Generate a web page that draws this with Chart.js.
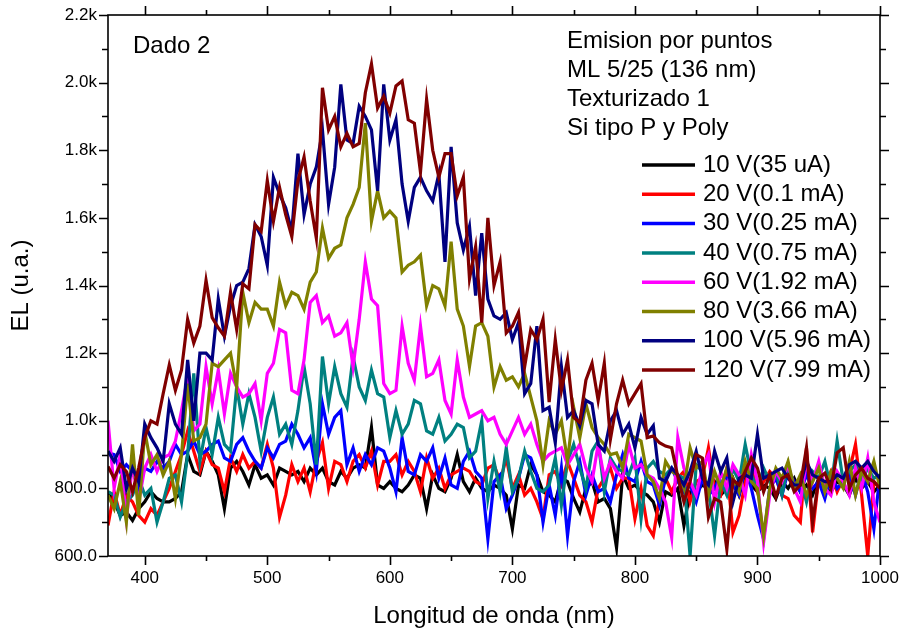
<!DOCTYPE html>
<html>
<head>
<meta charset="utf-8">
<script src="https://cdn.jsdelivr.net/npm/chart.js@4.4.1/dist/chart.umd.min.js"></script>
<style>
  html, body { margin: 0; padding: 0; background: #ffffff; }
  #wrap { width: 906px; height: 638px; }
</style>
</head>
<body>
<div id="wrap"><canvas id="c" width="906" height="638"></canvas></div>
<script>
// Wavelength grid (nm)
const wavelength = [
  370,375,380,385,390,395,
  400,405,410,415,420,425,430,435,440,445,
  450,455,460,465,470,475,480,485,490,495,
  500,505,510,515,520,525,530,535,540,545,
  550,555,560,565,570,575,580,585,590,595,
  600,605,610,615,620,625,630,635,640,645,
  650,655,660,665,670,675,680,685,690,695,
  700,705,710,715,720,725,730,735,740,745,
  750,755,760,765,770,775,780,785,790,795,
  800,805,810,815,820,825,830,835,840,845,
  850,855,860,865,870,875,880,885,890,895,
  900,905,910,915,920,925,930,935,940,945,
  950,955,960,965,970,975,980,985,990,995,
  1000
];

// Electroluminescence intensity (u.a.) for each bias
const el10V = [
  790,760,720,730,705,740,
  760,790,770,760,760,770,790,900,850,840,
  910,880,840,740,860,880,850,810,870,830,
  840,810,860,850,840,850,820,860,840,860,
  820,810,850,830,860,870,860,980,810,800,
  820,800,790,810,840,830,740,840,800,790,
  830,900,820,790,830,800,790,810,800,780,
  680,810,800,870,840,790,780,760,830,820,
  770,730,800,820,760,770,740,625,840,800,
  810,790,780,760,700,790,780,800,690,790,
  790,810,800,820,780,800,830,780,840,810,
  790,810,800,770,820,800,830,790,810,780,
  830,800,790,820,810,780,830,800,820,790,
  810
];
const el20V = [
  690,790,720,780,760,720,
  700,740,720,760,800,850,900,970,910,850,
  910,870,860,790,890,850,900,860,880,860,
  930,860,715,780,870,820,860,790,880,935,
  800,880,870,820,880,900,860,910,810,880,
  880,900,840,880,850,790,890,830,860,800,
  840,850,860,850,820,810,860,870,820,890,
  800,840,780,800,760,710,840,850,810,880,
  830,780,760,700,800,830,860,800,830,830,
  710,800,690,660,770,830,790,830,850,760,
  820,830,920,800,780,860,670,720,820,860,
  790,820,850,830,780,770,720,700,920,670,
  830,810,850,790,830,850,930,780,600,820,
  800
];
const el30V = [
  905,900,850,870,850,800,
  860,850,880,860,880,930,900,910,940,900,
  910,930,940,890,880,930,950,910,880,860,
  920,890,930,940,990,960,920,950,850,1050,
  960,1010,1030,870,920,850,900,870,920,910,
  860,790,950,850,840,900,880,920,830,890,
  810,800,880,910,850,830,650,820,840,740,
  780,830,900,890,840,700,810,720,860,660,
  820,880,780,840,790,800,760,840,900,830,
  820,880,820,810,750,830,860,820,790,810,
  760,830,780,800,840,830,810,780,860,800,
  720,650,800,830,780,850,820,790,840,800,
  820,770,840,800,820,840,780,850,790,680,
  840
];
const el40V = [
  790,780,715,760,780,830,
  780,800,700,760,830,840,760,900,1140,880,
  980,900,1010,930,910,1100,990,1080,1010,910,
  1010,1070,960,990,930,1030,1160,1050,870,1190,
  1050,1160,1080,1040,1190,1100,1060,1150,1080,1070,
  950,1030,960,990,1060,1050,970,960,1010,940,
  960,990,980,890,910,1000,770,880,790,920,
  790,830,910,850,800,790,810,890,750,880,
  930,860,800,910,940,790,890,860,850,840,
  890,710,860,880,850,840,860,840,830,600,
  870,850,800,660,820,780,860,820,930,840,
  800,860,820,850,780,870,800,830,760,850,
  830,880,800,940,820,850,870,820,860,830,
  840
];
const el60V = [
  1000,800,900,710,870,760,
  860,900,850,890,900,940,1030,1130,970,990,
  1160,1050,1150,1020,1140,1100,1070,1080,1110,1000,
  1140,1170,1270,1260,1090,1080,1180,1350,1370,1290,
  1310,1250,1260,1290,1160,1300,1470,1360,1340,1110,
  1080,1090,1280,1170,1120,1280,1130,1140,1180,1060,
  1020,1180,1070,1010,1020,1030,1000,1010,960,930,
  970,1010,960,990,930,880,900,910,920,870,
  900,930,860,820,930,830,880,850,830,930,
  860,870,840,830,800,760,655,950,860,820,
  780,860,900,760,850,800,870,840,780,900,
  820,640,780,850,820,870,800,760,880,820,
  880,800,780,850,820,780,860,800,890,760,
  700
];
const el80V = [
  780,740,820,700,930,720,
  970,870,900,840,880,770,900,1110,940,950,
  990,1170,1160,1180,1200,1100,1380,1290,1350,1330,
  1330,1280,1410,1340,1380,1370,1330,1410,1440,1570,
  1480,1510,1520,1600,1640,1690,1880,1590,1680,1600,
  1620,1600,1440,1460,1470,1490,1340,1400,1390,1340,
  1530,1330,1280,1160,1280,1290,1250,1100,1160,1120,
  1130,1100,1140,1070,1000,870,1000,960,1000,880,
  1040,950,1050,980,950,930,900,905,860,960,
  950,940,840,820,770,880,850,840,800,920,
  860,880,780,850,800,860,830,790,880,820,
  800,660,800,860,830,880,800,840,780,820,
  860,790,850,830,800,880,780,850,820,880,
  800
];
const el100V = [
  910,880,920,800,860,820,
  990,950,920,880,1050,990,960,1180,1000,1200,
  1200,1180,1360,1250,1340,1400,1410,1450,1580,1545,
  1460,1720,1670,1630,1560,1790,1610,1700,1750,1860,
  1640,1750,1995,1830,1820,1930,1900,1860,1680,1995,
  1830,1890,1700,1590,1690,1720,1680,1650,1730,1470,
  1810,1585,1505,1575,1370,1555,1360,1310,1300,1320,
  1240,1290,1080,1110,1280,1030,1040,935,1160,1010,
  1030,985,1060,1050,930,910,1000,1030,960,990,
  920,1010,960,985,830,820,860,840,810,850,
  910,830,810,910,850,890,760,830,840,830,
  960,830,840,850,860,830,810,810,880,840,
  830,820,820,840,830,870,880,860,880,850,
  830
];
const el120V = [
  865,830,870,850,790,860,
  950,1000,990,1080,1165,1090,1150,1300,1230,1280,
  1415,1305,1275,1250,1380,1270,1405,1390,1580,1560,
  1710,1590,1690,1610,1545,1710,1780,1650,1540,1985,
  1860,1900,1810,1850,1810,1820,1970,2055,1925,1960,
  1910,1990,2005,1890,1880,1735,1950,1800,1720,1790,
  1790,1665,1720,1420,1515,1290,1600,1400,1470,1260,
  1280,1320,1160,1270,1240,1300,1055,1240,1090,1180,
  1010,995,1120,1170,1060,1170,945,1050,1120,1050,
  1080,1110,950,955,935,925,920,835,760,820,
  900,890,715,770,760,620,825,810,850,890,
  860,790,840,775,830,840,790,810,920,700,
  830,845,800,905,920,800,840,860,830,820,
  800
];

const seriesValues = [el10V, el20V, el30V, el40V, el60V, el80V, el100V, el120V];
const seriesNames = ['10 V(35 uA)', '20 V(0.1 mA)', '30 V(0.25 mA)', '40 V(0.75 mA)',
                     '60 V(1.92 mA)', '80 V(3.66 mA)', '100 V(5.96 mA)', '120 V(7.99 mA)'];
const seriesColors = ['#000000', '#ff0000', '#0000ff', '#008080',
                      '#ff00ff', '#808000', '#000080', '#800000'];

const xMajorTicks = [400, 500, 600, 700, 800, 900, 1000];
const xMinorTicks = [450, 550, 650, 750, 850, 950];
const yMajorTicks = [600, 800, 1000, 1200, 1400, 1600, 1800, 2000, 2200];
const yMinorTicks = [700, 900, 1100, 1300, 1500, 1700, 1900, 2100];

const sampleNotes = ['Emision por puntos', 'ML 5/25 (136 nm)', 'Texturizado 1', 'Si tipo P y Poly'];
const panelTag = 'Dado 2';

const FONT = '"Liberation Sans", Arial, Helvetica, sans-serif';

function formatIntensity(v) {
  return v < 1000 ? v.toFixed(1) : (v / 1000).toFixed(1) + 'k';
}

// Box frame with outward ticks on all four sides, plus notes and legend
const frameDecor = {
  id: 'frameDecor',
  afterDraw(chart) {
    const { ctx, chartArea: a, scales: { x, y } } = chart;
    ctx.save();
    ctx.strokeStyle = '#000';
    ctx.lineWidth = 1.6;
    ctx.lineCap = 'butt';
    ctx.strokeRect(a.left, a.top, a.right - a.left, a.bottom - a.top);

    ctx.beginPath();
    const xTick = (v, len) => {
      const px = Math.round(x.getPixelForValue(v)) + 0.5;
      ctx.moveTo(px, a.bottom); ctx.lineTo(px, a.bottom + len);
      ctx.moveTo(px, a.top); ctx.lineTo(px, a.top - len);
    };
    const yTick = (v, len) => {
      const py = Math.round(y.getPixelForValue(v)) + 0.5;
      ctx.moveTo(a.left, py); ctx.lineTo(a.left - len, py);
      ctx.moveTo(a.right, py); ctx.lineTo(a.right + len, py);
    };
    xMajorTicks.forEach(v => xTick(v, 9));
    xMinorTicks.forEach(v => xTick(v, 5));
    yMajorTicks.forEach(v => yTick(v, 9));
    yMinorTicks.forEach(v => yTick(v, 6));
    ctx.stroke();

    // Panel tag and sample description
    ctx.fillStyle = '#000';
    ctx.textBaseline = 'middle';
    ctx.textAlign = 'left';
    ctx.font = '24px ' + FONT;
    ctx.fillText(panelTag, 133, 46);
    sampleNotes.forEach((t, i) => ctx.fillText(t, 567, 41 + i * 29.2));

    // Legend
    chart.data.datasets.forEach((ds, i) => {
      const ly = 165 + i * 29.3;
      ctx.strokeStyle = ds.borderColor;
      ctx.lineWidth = 3.5;
      ctx.beginPath();
      ctx.moveTo(642, ly);
      ctx.lineTo(695, ly);
      ctx.stroke();
      ctx.fillStyle = '#000';
      ctx.fillText(ds.label, 703, ly);
    });
    ctx.restore();
  }
};

const datasets = seriesValues.map((vals, i) => ({
  label: seriesNames[i],
  data: wavelength.map((w, k) => ({ x: w, y: vals[k] })),
  borderColor: seriesColors[i],
  backgroundColor: seriesColors[i],
  borderWidth: 3.2,
  pointRadius: 0,
  tension: 0,
  fill: false,
  order: seriesValues.length - i
}));

new Chart(document.getElementById('c'), {
  type: 'line',
  data: { datasets },
  plugins: [frameDecor],
  options: {
    responsive: false,
    animation: false,
    devicePixelRatio: 1,
    layout: { padding: { top: 15, right: 26, left: 0, bottom: 0 } },
    plugins: { legend: { display: false }, tooltip: { enabled: false } },
    scales: {
      x: {
        type: 'linear',
        min: 370,
        max: 1000,
        afterBuildTicks: s => { s.ticks = xMajorTicks.map(v => ({ value: v })); },
        afterFit: s => { s.height = 82; s.paddingLeft = 0; s.paddingRight = 0; },
        grid: { display: false, drawTicks: false },
        border: { display: false },
        ticks: {
          color: '#000',
          font: { family: FONT, size: 17 },
          padding: 12,
          maxRotation: 0,
          autoSkip: false,
          callback: v => String(v)
        },
        title: {
          display: true,
          text: 'Longitud de onda (nm)',
          color: '#000',
          font: { family: FONT, size: 24 },
          padding: { top: 0, bottom: 7 }
        }
      },
      y: {
        type: 'linear',
        min: 600,
        max: 2200,
        afterBuildTicks: s => { s.ticks = yMajorTicks.map(v => ({ value: v })); },
        afterFit: s => { s.width = 108; s.paddingTop = 0; s.paddingBottom = 0; },
        grid: { display: false, drawTicks: false },
        border: { display: false },
        ticks: {
          color: '#000',
          font: { family: FONT, size: 17 },
          padding: 11,
          callback: v => formatIntensity(v)
        },
        title: {
          display: true,
          text: 'EL (u.a.)',
          color: '#000',
          font: { family: FONT, size: 24 },
          padding: { top: 7, bottom: 0 }
        }
      }
    }
  }
});
</script>
</body>
</html>
